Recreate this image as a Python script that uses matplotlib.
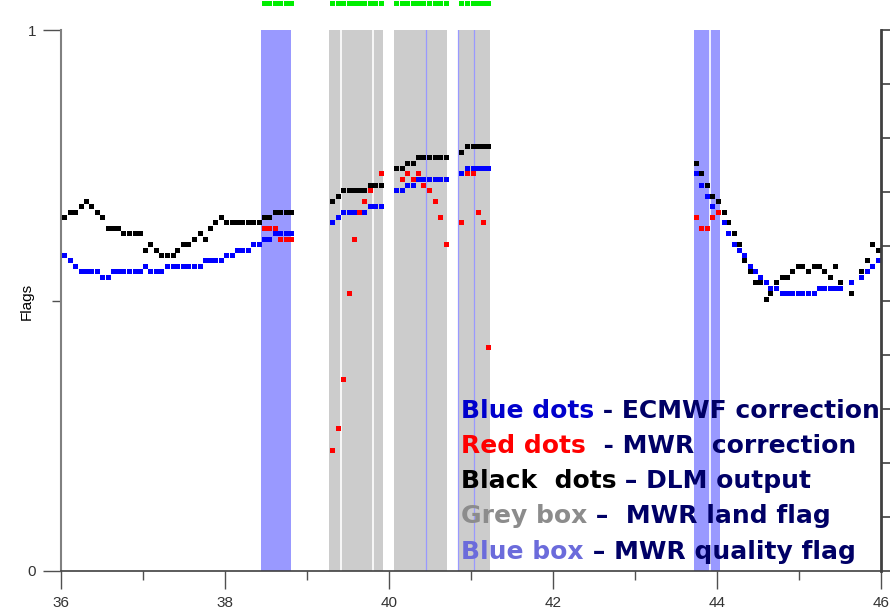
import numpy as np
import matplotlib
matplotlib.use("Agg")
import matplotlib.pyplot as plt

plt.rcParams["font.family"] = ["Liberation Sans", "DejaVu Sans"]

# ---- data ----
# stretch 1: 36.0 -> first blue quality box
X_A = [36.04, 36.11, 36.17, 36.24, 36.30, 36.37, 36.44, 36.50, 36.57, 36.63,
       36.70, 36.76, 36.83, 36.90, 36.96, 37.03, 37.09, 37.16, 37.22, 37.29,
       37.36, 37.42, 37.49, 37.55, 37.62, 37.69, 37.75, 37.82, 37.88, 37.95,
       38.01, 38.08, 38.15, 38.21, 38.28, 38.34, 38.41, 38.47, 38.54, 38.61,
       38.67, 38.74, 38.80]
BLACK_A = [0.654, 0.664, 0.664, 0.675, 0.684, 0.675, 0.664, 0.654, 0.634, 0.634,
           0.634, 0.624, 0.624, 0.624, 0.624, 0.594, 0.604, 0.594, 0.584, 0.584,
           0.584, 0.594, 0.604, 0.604, 0.614, 0.624, 0.614, 0.634, 0.645, 0.654,
           0.645, 0.645, 0.645, 0.645, 0.645, 0.645, 0.645, 0.654, 0.654, 0.664,
           0.664, 0.664, 0.664]
BLUE_A = [0.584, 0.574, 0.564, 0.555, 0.555, 0.555, 0.555, 0.544, 0.544, 0.555,
          0.555, 0.555, 0.555, 0.555, 0.555, 0.564, 0.555, 0.555, 0.555, 0.564,
          0.564, 0.564, 0.564, 0.564, 0.564, 0.564, 0.574, 0.574, 0.574, 0.574,
          0.584, 0.584, 0.594, 0.594, 0.594, 0.604, 0.604, 0.614, 0.614, 0.624,
          0.624, 0.624, 0.624]
RED_A_X = [38.47, 38.54, 38.61, 38.67, 38.74, 38.80]
RED_A = [0.634, 0.634, 0.634, 0.614, 0.614, 0.614]

# stretch 2: first grey box
X_B = [39.31, 39.38, 39.44, 39.51, 39.57, 39.64, 39.70, 39.77, 39.83, 39.90]
BLACK_B = [0.684, 0.694, 0.705, 0.705, 0.705, 0.705, 0.705, 0.714, 0.714, 0.714]
BLUE_B = [0.645, 0.654, 0.664, 0.664, 0.664, 0.664, 0.664, 0.675, 0.675, 0.675]
RED_B_X = [39.31, 39.38, 39.44, 39.51, 39.57, 39.64, 39.70, 39.77, 39.90]
RED_B = [0.223, 0.264, 0.354, 0.513, 0.614, 0.664, 0.684, 0.705, 0.735]

# stretch 3: second grey box
X_C = [40.09, 40.16, 40.22, 40.29, 40.35, 40.42, 40.49, 40.56, 40.62, 40.69]
BLACK_C = [0.744, 0.744, 0.755, 0.755, 0.765, 0.765, 0.765, 0.765, 0.765, 0.765]
BLUE_C = [0.705, 0.705, 0.714, 0.714, 0.725, 0.725, 0.725, 0.725, 0.725, 0.725]
RED_C_X = [40.16, 40.22, 40.29, 40.35, 40.42, 40.49, 40.56, 40.62, 40.69]
RED_C = [0.725, 0.735, 0.725, 0.735, 0.714, 0.705, 0.684, 0.654, 0.604]

# stretch 4: third grey box
X_D = [40.88, 40.95, 41.02, 41.08, 41.15, 41.21]
BLACK_D = [0.775, 0.785, 0.785, 0.785, 0.785, 0.785]
BLUE_D = [0.735, 0.744, 0.744, 0.744, 0.744, 0.744]
RED_D = [0.645, 0.735, 0.735, 0.664, 0.645, 0.414]

# stretch 5: second blue box -> 46
X_E = [43.74, 43.81, 43.88, 43.94, 44.01, 44.08, 44.14, 44.21, 44.27, 44.33,
       44.40, 44.46, 44.53, 44.60, 44.65, 44.72, 44.79, 44.85, 44.92, 44.99,
       45.04, 45.11, 45.18, 45.24, 45.31, 45.38, 45.44, 45.50, 45.63, 45.76,
       45.83, 45.89, 45.96]
BLACK_E = [0.754, 0.735, 0.714, 0.694, 0.683, 0.664, 0.645, 0.624, 0.604, 0.574,
           0.555, 0.535, 0.535, 0.503, 0.513, 0.535, 0.544, 0.544, 0.555, 0.564,
           0.564, 0.555, 0.564, 0.564, 0.555, 0.544, 0.564, 0.535, 0.513, 0.555,
           0.574, 0.604, 0.593]
BLUE_E = [0.735, 0.714, 0.694, 0.675, np.nan, 0.645, 0.624, 0.604, 0.593, 0.584,
          0.564, 0.555, 0.544, 0.535, 0.524, 0.524, 0.513, 0.513, 0.513, 0.513,
          0.513, 0.513, 0.513, 0.524, 0.524, 0.524, 0.524, 0.524, 0.535, 0.544,
          0.555, 0.564, 0.574]
RED_E_X = [43.74, 43.81, 43.88, 43.94, 44.01]
RED_E = [0.654, 0.634, 0.634, 0.654, 0.664]

# flagged samples (green marks above the frame)
GREEN_X = RED_A_X + X_B + X_C + X_D
GREEN_LEVEL = 1.05

# flag boxes
GREY_BOXES = [(39.27, 39.93), (40.06, 40.71), (40.84, 41.23)]
GREY_SPLITS = [39.41, 39.80]
BLUE_BOXES = [(38.44, 38.81), (43.72, 44.04)]
BLUE_SPLITS = [43.91]
QUALITY_LINES = [40.455, 40.845, 41.04]

X_MAJOR = [36, 38, 40, 42, 44, 46]
X_MINOR = [37, 39, 41, 43, 45]
RIGHT_TICKS = [0.0, 0.1, 0.2, 0.3, 0.4, 0.5, 0.6, 0.7, 0.8, 0.9, 1.0]

LEGEND = [("Blue dots", " - ECMWF correction", "#0000cc"),
          ("Red dots", "  - MWR  correction", "#ff0000"),
          ("Black  dots", " \u2013 DLM output", "#000000"),
          ("Grey box", " \u2013  MWR land flag", "#8c8c8c"),
          ("Blue box", " \u2013 MWR quality flag", "#6b6bdb")]
NAVY = "#000066"

# ---- figure ----
W, H = 890, 611
fig = plt.figure(figsize=(W / 100, H / 100), dpi=100)
ax = fig.add_axes([61 / W, 40 / H, 820 / W, 541 / H])
ax.set_xlim(36, 46)
ax.set_ylim(0, 1)

for lo, hi in GREY_BOXES:
    ax.axvspan(lo, hi, color="#cccccc", lw=0, zorder=1)
for lo, hi in BLUE_BOXES:
    ax.axvspan(lo, hi, color="#9999ff", lw=0, zorder=1)
for xv in GREY_SPLITS + BLUE_SPLITS:
    ax.axvline(xv, color="white", lw=1.2, zorder=1.5)
for xv in QUALITY_LINES:
    ax.axvline(xv, color="#9999ff", lw=0.9, zorder=1.5)

dot = dict(ls="none", marker="s", ms=3.6, mew=0, zorder=3)
for xs, ys in [(X_A, BLACK_A), (X_B, BLACK_B), (X_C, BLACK_C), (X_D, BLACK_D), (X_E, BLACK_E)]:
    ax.plot(xs, ys, color="black", **dot)
for xs, ys in [(X_A, BLUE_A), (X_B, BLUE_B), (X_C, BLUE_C), (X_D, BLUE_D), (X_E, BLUE_E)]:
    ax.plot(xs, ys, color="#0000ff", **dot)
for xs, ys in [(RED_A_X, RED_A), (RED_B_X, RED_B), (RED_C_X, RED_C), (X_D, RED_D), (RED_E_X, RED_E)]:
    ax.plot(xs, ys, color="#ff0000", **dot)
ax.plot(GREEN_X, [GREEN_LEVEL] * len(GREEN_X), color="#00ee00", clip_on=False, **dot)

# axes styling
ax.spines["top"].set_visible(False)
ax.spines["right"].set_visible(False)
ax.spines["left"].set_color("#808080")
ax.spines["left"].set_linewidth(1.5)
ax.spines["bottom"].set_color("#404040")
ax.spines["bottom"].set_linewidth(1.2)

ax.set_xticks(X_MAJOR)
ax.set_xticklabels([str(v) for v in X_MAJOR])
ax.set_xticks(X_MINOR, minor=True)
ax.set_yticks([0, 1])
ax.set_yticklabels(["0", "1"])
ax.set_yticks([0.5], minor=True)
ax.tick_params(which="major", direction="out", length=13, width=1, color="#505050",
               pad=5, labelsize=11, labelcolor="#333333")
ax.tick_params(which="minor", direction="out", length=6.5, width=1, color="#505050")

ax2 = ax.twinx()
ax2.set_ylim(0, 1)
ax2.set_yticks(RIGHT_TICKS)
ax2.set_yticklabels([])
for s in ("top", "left", "bottom"):
    ax2.spines[s].set_visible(False)
ax2.spines["right"].set_color("#404040")
ax2.spines["right"].set_linewidth(2)
ax2.tick_params(axis="y", direction="out", length=10, width=1.2, color="#404040")

fig.text(27 / W, 1 - 301 / H, "Flags", rotation=90, ha="center", va="center", fontsize=11)

# colour-keyed legend text: coloured key, then the navy description right after it
txt = dict(fontsize=18, fontweight="bold", family="DejaVu Sans")
for i, (key, rest, col) in enumerate(LEGEND):
    yb = 1 - (417.5 + 35.3 * i) / H
    t_key = fig.text(461 / W, yb, key, color=col, va="baseline", ha="left", zorder=6, **txt)
    ax2.annotate(rest, xy=(1, 0), xycoords=t_key, va="bottom", ha="left",
                 color=NAVY, annotation_clip=False, zorder=6, **txt)

fig.savefig("out.png", dpi=100)
